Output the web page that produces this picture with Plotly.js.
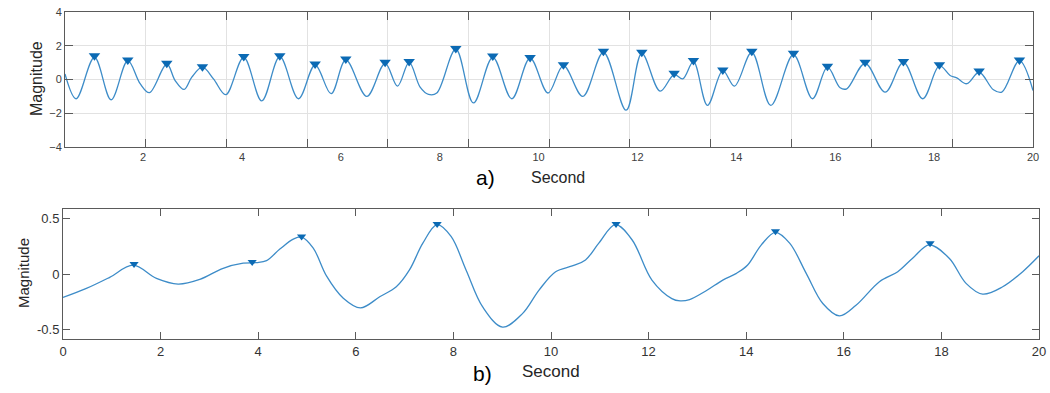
<!DOCTYPE html>
<html>
<head>
<meta charset="utf-8">
<script src="https://cdn.plot.ly/plotly-3.0.1.min.js"></script>
<style>
html,body{margin:0;padding:0;background:#fff;}
#chart{width:1050px;height:393px;}
</style>
</head>
<body>
<div id="chart"></div>
<script>
// ---- Panel a) signal ----
const topTime = [0.42,0.645,1.016,1.353,1.690,1.940,2.128,2.479,2.648,2.830,2.985,3.200,3.423,3.672,4.036,4.400,4.765,5.142,5.479,5.803,6.100,6.524,6.895,7.145,7.381,7.603,7.772,7.940,8.325,8.682,9.073,9.457,9.828,10.19,10.502,10.893,11.311,11.770,12.087,12.457,12.741,12.916,13.132,13.415,13.726,13.962,14.312,14.697,15.155,15.539,15.842,16.099,16.233,16.604,17.009,17.379,17.770,18.107,18.323,18.458,18.660,18.910,19.200,19.369,19.726,20.0];
const topMag = [0.33,-1.14,1.31,-1.20,1.12,-0.25,-0.78,0.92,-0.06,-0.59,0.14,0.73,0.04,-0.90,1.31,-1.27,1.35,-1.14,0.86,-0.84,1.16,-1.00,0.96,-0.39,1.02,-0.45,-0.88,-0.80,1.80,-1.39,1.31,-1.14,1.27,-0.80,0.82,-1.00,1.61,-1.82,1.55,-0.69,0.29,0.04,1.06,-1.53,0.53,-0.39,1.61,-1.53,1.47,-1.14,0.73,-0.49,-0.55,0.96,-0.75,1.02,-1.14,0.82,0.24,0.10,-0.25,0.43,-0.61,-0.75,1.12,-0.65];
const topPeakTime = [1.016,1.690,2.479,3.200,4.036,4.765,5.479,6.100,6.895,7.381,8.325,9.073,9.828,10.502,11.311,12.087,12.741,13.132,13.726,14.312,15.155,15.842,16.604,17.379,18.107,18.910,19.726];
const topPeakMag = [1.41,1.16,0.96,0.76,1.37,1.41,0.92,1.22,1.02,1.06,1.84,1.39,1.31,0.88,1.67,1.61,0.37,1.12,0.57,1.67,1.55,0.78,1.02,1.06,0.88,0.51,1.16];
const topXTicks = [2,4,6,8,10,12,14,16,18,20];
const topYTicks = [-4,-2,0,2,4];

// ---- Panel b) signal ----
const botTime = [0,0.479,0.957,1.436,1.915,2.359,2.803,3.282,3.692,3.966,4.171,4.444,4.718,4.889,5.128,5.402,5.744,6.095,6.49,6.83,7.10,7.374,7.667,7.952,8.259,8.60,9.007,9.415,9.755,10.095,10.435,10.707,10.98,11.32,11.66,12.068,12.476,12.646,12.84,13.18,13.52,13.80,14.03,14.31,14.60,14.89,15.23,15.57,15.91,16.25,16.73,17.106,17.41,17.754,18.16,18.505,18.846,19.256,19.666,20.0];
const botMag = [-0.213,-0.131,-0.03,0.080,-0.04,-0.091,-0.049,0.052,0.098,0.104,0.122,0.226,0.317,0.335,0.235,-0.02,-0.22,-0.308,-0.207,-0.116,0.037,0.28,0.448,0.341,0.037,-0.299,-0.482,-0.36,-0.146,0.021,0.073,0.128,0.28,0.448,0.311,-0.055,-0.223,-0.244,-0.232,-0.152,-0.055,0.006,0.082,0.265,0.378,0.28,0.006,-0.268,-0.381,-0.284,-0.07,0.021,0.143,0.265,0.143,-0.085,-0.183,-0.116,0.021,0.165];
const botPeakTime = [1.456,3.877,4.889,7.667,11.333,14.60,17.768];
const botPeakMag = [0.091,0.11,0.341,0.454,0.454,0.387,0.28];
const botXTicks = [0,2,4,6,8,10,12,14,16,18,20];
const botXLabels = ['0','2','4','6','8','10','12','14','16','18','20'];
const botYTicks = [-0.5,0,0.5];
const botYLabels = ['-0.5','0','0.5'];

const lineColor = '#3d8cc8';
const markColor = '#0b6ab4';
const axisColor = '#5a5a5a';
const font = 'Liberation Sans, Arial, sans-serif';

const topRange = [0.42, 20];
// frame ticks / grid split the top range into 12 equal parts
const frameTicks = [];
for (let k = 1; k < 12; k++) frameTicks.push(topRange[0] + k*(topRange[1]-topRange[0])/12);

const W = 1050, H = 393;
const px = v => v / W, py = v => 1 - v / H;

const traces = [
  {x: topTime, y: topMag, type:'scatter', mode:'lines', xaxis:'x', yaxis:'y',
   line:{color:lineColor, width:1.3, shape:'spline', smoothing:1}},
  {x: topPeakTime, y: topPeakMag, type:'scatter', mode:'markers', xaxis:'x', yaxis:'y',
   marker:{symbol:'triangle-down', size:10, color:markColor}},
  {x: botTime, y: botMag, type:'scatter', mode:'lines', xaxis:'x2', yaxis:'y2',
   line:{color:lineColor, width:1.3, shape:'spline', smoothing:1}},
  {x: botPeakTime, y: botPeakMag, type:'scatter', mode:'markers', xaxis:'x2', yaxis:'y2',
   marker:{symbol:'triangle-down', size:8, color:markColor}}
];

const layout = {
  width: W, height: H,
  margin:{l:0, r:0, t:0, b:0},
  paper_bgcolor:'#fff', plot_bgcolor:'#fff',
  showlegend:false,
  font:{family:font, color:'#333'},
  xaxis:{domain:[px(65), px(1033)], range:topRange, anchor:'y',
    tickmode:'array', tickvals:topXTicks, ticks:'inside', ticklen:0, tickcolor:'rgba(0,0,0,0)',
    showgrid:false, zeroline:false,
    showline:true, mirror:'ticks', linecolor:axisColor, linewidth:1,
    minor:{tickmode:'array', tickvals:frameTicks, ticks:'inside', ticklen:8, tickcolor:axisColor,
           showgrid:true, gridcolor:'#e2e2e2', gridwidth:1},
    tickfont:{size:11, color:'#404040', family:font}},
  yaxis:{domain:[py(147), py(12)], range:[-4,4], anchor:'x',
    tickmode:'array', tickvals:topYTicks, ticks:'inside', ticklen:8, tickcolor:axisColor,
    showline:true, mirror:'ticks', linecolor:axisColor, linewidth:1,
    showgrid:true, gridcolor:'#e2e2e2', zeroline:false,
    tickfont:{size:11, color:'#404040', family:font}},
  xaxis2:{domain:[px(63), px(1039)], range:[0,20], anchor:'y2',
    tickmode:'array', tickvals:botXTicks, ticktext:botXLabels, ticks:'inside', ticklen:7,
    tickcolor:axisColor, showline:true, mirror:'ticks', linecolor:axisColor, linewidth:1,
    showgrid:false, zeroline:false,
    tickfont:{size:13, color:'#333', family:font}},
  yaxis2:{domain:[py(339), py(209)], range:[-0.59,0.59], anchor:'x2',
    tickmode:'array', tickvals:botYTicks, ticktext:botYLabels, ticks:'inside', ticklen:7,
    tickcolor:axisColor, showline:true, mirror:'ticks', linecolor:axisColor, linewidth:1,
    showgrid:false, zeroline:false,
    tickfont:{size:13, color:'#333', family:font}},
  annotations:[
    {text:'Magnitude', xref:'paper', yref:'paper', x:px(37), y:py(79), textangle:-90,
     showarrow:false, xanchor:'center', yanchor:'middle', font:{size:16, color:'#262626', family:font}},
    {text:'a)', xref:'paper', yref:'paper', x:px(485), y:py(178),
     showarrow:false, xanchor:'center', yanchor:'middle', font:{size:21, color:'#000', family:font}},
    {text:'Second', xref:'paper', yref:'paper', x:px(558), y:py(178),
     showarrow:false, xanchor:'center', yanchor:'middle', font:{size:16, color:'#262626', family:font}},
    {text:'Magnitude', xref:'paper', yref:'paper', x:px(23), y:py(273), textangle:-90,
     showarrow:false, xanchor:'center', yanchor:'middle', font:{size:15, color:'#262626', family:font}},
    {text:'b)', xref:'paper', yref:'paper', x:px(482), y:py(373),
     showarrow:false, xanchor:'center', yanchor:'middle', font:{size:21, color:'#000', family:font}},
    {text:'Second', xref:'paper', yref:'paper', x:px(551), y:py(371),
     showarrow:false, xanchor:'center', yanchor:'middle', font:{size:17, color:'#262626', family:font}}
  ]
};

Plotly.newPlot('chart', traces, layout, {staticPlot:true, displayModeBar:false});
</script>
</body>
</html>
